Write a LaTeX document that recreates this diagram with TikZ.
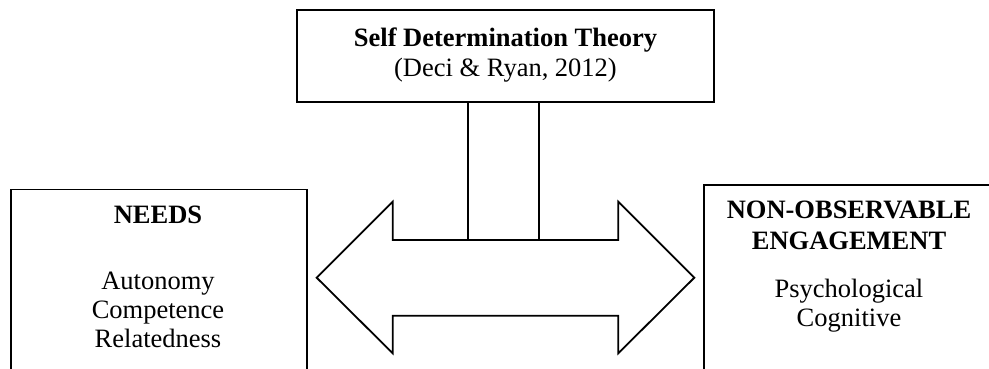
\documentclass[tikz,border=0pt]{standalone}
\usepackage{fontspec}
\setmainfont{Liberation Serif}
\begin{document}
\begin{tikzpicture}[x=1pt,y=-1pt,
  frame/.style={draw=black,line width=1.8pt,fill=white},
  lbl/.style={inner sep=0pt,anchor=base,font=\fontsize{26.5}{30}\selectfont},
  blbl/.style={inner sep=0pt,anchor=base,font=\fontsize{26.5}{30}\selectfont\bfseries}]
\useasboundingbox (0,0) rectangle (989,369);
\clip (0,0) rectangle (989,369);
% top box
\node[frame,minimum width=417pt,minimum height=92pt,inner sep=0pt] (sdt) at (505.5,56) {};
\node[blbl] (sdtA) at (505.5,46.7) {Self Determination Theory};
\node[lbl] (sdtB) at (505.5,76.7) {(Deci \& Ryan, 2012)};
% stem
\draw[frame] (468,102) rectangle (539,240);
\coordinate (stemtop) at (503.5,102);
% double arrow
\draw[frame,line join=miter] (316.7,277.7) -- (392.7,201.7) -- (392.7,240) -- (468,240) -- (539,240) -- (618.3,240) -- (618.3,201.7) -- (694.3,277.7) -- (618.3,353.3) -- (618.3,315.7) -- (392.7,315.7) -- (392.7,353.3) -- cycle;
\draw[black,line width=1.8pt] (468,240) -- (468,102) (539,240) -- (539,102);
% left box
\node[frame,minimum width=296pt,minimum height=200pt,inner sep=0pt,anchor=north west] (needs) at (10,188.5) {};
\node[blbl] (needsT) at (158,223.5) {NEEDS};
\node[lbl] (aut) at (158,289) {Autonomy};
\node[lbl] (com) at (158,318) {Competence};
\node[lbl] (rel) at (158,347) {Relatedness};
% right box
\node[frame,minimum width=320pt,minimum height=200pt,inner sep=0pt,anchor=north west] (noe) at (703,184) {};
\node[blbl] (noeA) at (849,218) {NON-OBSERVABLE};
\node[blbl] (noeB) at (849,249.5) {ENGAGEMENT};
\node[lbl] (psy) at (849,297) {Psychological};
\node[lbl] (cog) at (849,326) {Cognitive};
\end{tikzpicture}
\end{document}
